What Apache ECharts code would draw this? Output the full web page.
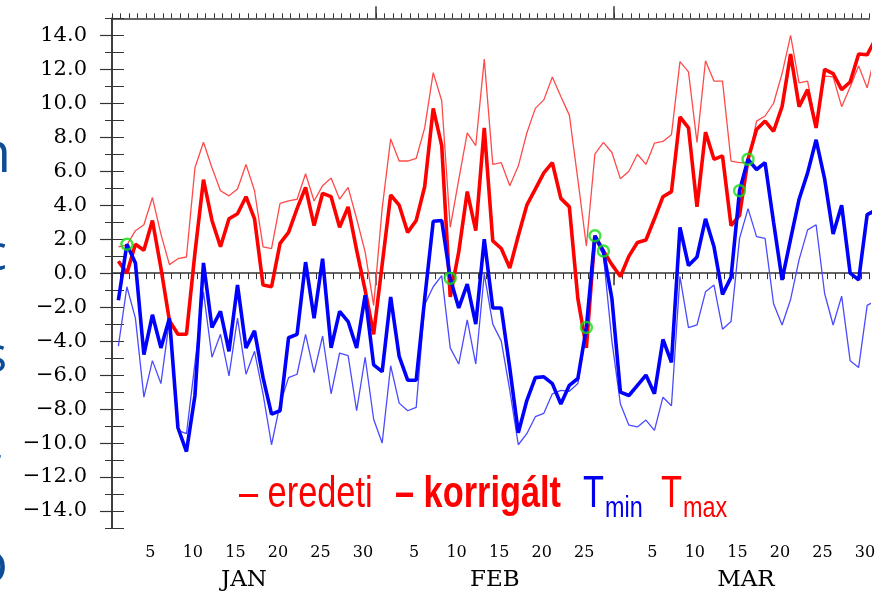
<!DOCTYPE html>
<html><head><meta charset="utf-8">
<script src="https://cdn.jsdelivr.net/npm/echarts@6/dist/echarts.min.js"></script>
<style>html,body{margin:0;padding:0;background:#fff}#c{width:881px;height:592px}</style>
</head><body><div id="c"></div>
<script>
// ---- data (Jan 1 .. Mar 31, one value per day) ----
const months = ['JAN', 'FEB', 'MAR'];
const monthLengths = [31, 28, 31];
const yTickLabels = [-14, -12, -10, -8, -6, -4, -2, 0, 2, 4, 6, 8, 10, 12, 14];

const tmaxEredeti = [1.55,1.65,2.5,2.85,4.45,2.3,0.5,0.85,0.95,6.2,7.7,6.2,4.85,4.55,4.95,6.4,4.85,1.55,1.45,4.1,4.25,4.35,5.85,4.25,5.15,5.6,4.35,5.05,3.2,1.25,-1.9,
  3.8,7.9,6.6,6.6,6.75,8.55,11.8,10.15,2.7,5.5,8.25,7.5,12.6,6.4,6.5,5.15,6.3,8.25,9.7,10.2,11.55,10.4,9.3,5.5,1.6,7.0,7.7,7.1,
  5.55,6.0,7.0,6.4,7.65,7.75,8.15,12.45,11.85,7.7,12.5,11.3,11.3,6.6,6.5,6.5,8.95,9.25,10.0,11.75,14.0,11.2,11.3,8.65,11.6,11.55,9.8,10.95,12.2,10.9,13.0];
const tmaxKorrigalt = [0.7,0.0,1.7,1.35,3.1,0.3,-2.8,-3.6,-3.6,1.2,5.5,3.1,1.55,3.2,3.5,4.5,3.2,-0.7,-0.8,1.75,2.4,3.8,5.05,2.8,4.7,4.5,2.7,3.9,1.35,-1.0,-3.6,
  0.5,4.6,4.0,2.4,3.1,5.1,9.7,7.5,-1.4,1.25,4.8,2.5,8.55,1.9,1.45,0.3,2.2,4.0,4.95,5.9,6.5,4.4,3.9,-1.5,-4.4,2.2,1.3,0.5,
  -0.2,1.0,1.8,1.95,3.2,4.5,4.8,9.2,8.55,3.9,8.3,6.7,6.9,2.8,3.4,6.7,8.45,8.95,8.35,9.8,12.9,9.8,10.8,8.55,12.0,11.75,10.8,11.25,12.9,12.85,13.8];
const tminEredeti = [-4.3,-0.8,-2.65,-7.3,-5.15,-6.5,-2.75,-9.25,-9.45,-5.3,-1.1,-4.95,-3.6,-6.05,-2.65,-5.95,-4.6,-7.1,-10.1,-7.7,-6.15,-5.95,-3.6,-5.85,-3.7,-7.1,-4.7,-4.85,-8.1,-4.95,-8.6,
  -10.0,-5.45,-7.65,-8.1,-7.9,-1.85,-0.8,-0.15,-4.4,-5.35,-2.75,-5.35,-0.05,-3.0,-4.0,-6.9,-10.1,-9.45,-8.45,-8.25,-7.1,-6.9,-6.95,-6.5,-3.4,2.0,1.05,-4.0,
  -7.7,-8.95,-9.05,-8.65,-9.25,-7.3,-7.8,-0.2,-3.2,-3.05,-1.1,-0.7,-3.3,-2.85,2.05,3.8,2.15,2.05,-1.8,-3.05,-1.55,0.8,2.55,2.85,-1.2,-3.05,-1.35,-5.15,-5.55,-1.9,-1.6];
const tminKorrigalt = [-1.6,1.7,0.6,-4.8,-2.45,-4.4,-2.65,-9.1,-10.5,-7.2,0.6,-3.2,-2.25,-4.6,-0.7,-4.4,-3.4,-6.15,-8.3,-8.1,-3.8,-3.6,0.65,-2.65,0.85,-4.4,-2.25,-2.85,-4.4,-1.3,-5.4,
  -5.8,-1.4,-4.9,-6.3,-6.3,-1.5,3.05,3.1,-0.3,-2.05,-0.65,-3.0,2.0,-2.05,-2.05,-5.6,-9.4,-7.5,-6.15,-6.1,-6.5,-7.7,-6.6,-6.2,-3.2,2.2,1.3,-1.5,
  -7.0,-7.2,-6.6,-6.0,-7.1,-3.9,-5.25,2.7,0.45,0.95,3.2,1.55,-1.25,-0.25,4.85,6.7,6.1,6.5,3.0,-0.4,2.0,4.35,5.9,7.85,5.55,2.3,4.0,0.0,-0.4,3.45,3.7];
const markedDays = [1, 39, 55, 56, 57, 73, 74];

// ---- derived helpers ----
const monthStarts = [];
const dayOfMonth = [];
let acc = 0;
monthLengths.forEach((n) => { monthStarts.push(acc); for (let d = 1; d <= n; d++) dayOfMonth.push(d); acc += n; });
const totalDays = acc; // 90
const boundaryTicks = monthStarts.slice(1);
const dayLabelValues = [];
dayOfMonth.forEach((d, i) => { if (d % 5 === 0 && i + 1 < totalDays) dayLabelValues.push(i + 0.5); });
const monthLabelValues = monthStarts.map((s, k) => s + monthLengths[k] / 2);

const pairs = (arr) => arr.map((v, i) => [i, v]);
const marks = markedDays.map((i) => [i, tminKorrigalt[i]]);

const frame = { show: true, lineStyle: { color: '#333', width: 1.5 } };
const serif = 'DejaVu Serif';
const xMax = totalDays - 1;
const slideBlue = '#0d4d97';

const chart = echarts.init(document.getElementById('c'), null, { renderer: 'canvas' });
chart.setOption({
  animation: false,
  backgroundColor: '#fff',
  grid: { left: 112, right: 11.7, top: 18.3, bottom: 60.3, containLabel: false },
  xAxis: [
    { type: 'value', position: 'bottom', min: 0, max: xMax, interval: 1, axisLine: frame,
      axisTick: { show: true, inside: false, length: 6, lineStyle: { color: '#333', width: 1 } },
      axisLabel: { show: false }, splitLine: { show: false } },
    { type: 'value', position: 'bottom', min: 0, max: xMax, axisLine: { show: false },
      axisTick: { show: true, length: 12, customValues: boundaryTicks, lineStyle: { color: '#333', width: 1.5 } },
      axisLabel: { show: true, customValues: dayLabelValues, margin: 17, fontFamily: serif, fontSize: 16, color: '#000',
        formatter: (v) => String(dayOfMonth[Math.floor(v)]) },
      splitLine: { show: false } },
    { type: 'value', position: 'bottom', min: 0, max: xMax, axisLine: { show: false }, axisTick: { show: false },
      axisLabel: { show: true, customValues: monthLabelValues, margin: 41, fontFamily: serif, fontSize: 23, color: '#000',
        formatter: (v) => months[monthLabelValues.indexOf(v)] },
      splitLine: { show: false } },
    { type: 'value', position: 'top', min: 0, max: xMax, interval: 1, axisLine: frame,
      axisTick: { show: true, length: 5, lineStyle: { color: '#333', width: 1 } },
      axisLabel: { show: false }, splitLine: { show: false } },
    { type: 'value', position: 'top', min: 0, max: xMax, axisLine: { show: false },
      axisTick: { show: true, length: 12, customValues: boundaryTicks, lineStyle: { color: '#333', width: 1.5 } },
      axisLabel: { show: false }, splitLine: { show: false } },
    { type: 'value', position: 'bottom', min: -0.75, max: xMax - 0.75, show: false }
  ],
  yAxis: [
    { type: 'value', position: 'left', min: -15, max: 15, interval: 1, axisLine: frame,
      axisTick: { show: true, length: 7, lineStyle: { color: '#333', width: 1 } },
      axisLabel: { show: true, customValues: yTickLabels, margin: 25, fontFamily: serif, fontSize: 21, color: '#000',
        formatter: (v) => (v < 0 ? '\u2212' : '') + Math.abs(v).toFixed(1) },
      splitLine: { show: false } },
    { type: 'value', position: 'left', min: -15, max: 15, axisLine: { show: false },
      axisTick: { show: true, length: 12, customValues: yTickLabels, lineStyle: { color: '#333', width: 1.2 } },
      axisLabel: { show: false }, splitLine: { show: false } },
    { type: 'value', position: 'right', min: -15, max: 15, interval: 1, axisLine: frame,
      axisTick: { show: true, length: 12, lineStyle: { color: '#333', width: 1 } },
      axisLabel: { show: false }, splitLine: { show: false } }
  ],
  series: [
    { name: 'Tmax eredeti', type: 'line', xAxisIndex: 5, yAxisIndex: 0, data: pairs(tmaxEredeti), showSymbol: false,
      lineStyle: { color: '#ff4a4a', width: 1.3 }, z: 2 },
    { name: 'Tmin eredeti', type: 'line', xAxisIndex: 5, yAxisIndex: 0, data: pairs(tminEredeti), showSymbol: false,
      lineStyle: { color: '#4a4aff', width: 1.3 }, z: 2 },
    { name: 'Tmax korrigált', type: 'line', xAxisIndex: 5, yAxisIndex: 0, data: pairs(tmaxKorrigalt), showSymbol: false,
      lineStyle: { color: '#ff0000', width: 3.6 }, z: 3 },
    { name: 'Tmin korrigált', type: 'line', xAxisIndex: 5, yAxisIndex: 0, data: pairs(tminKorrigalt), showSymbol: false,
      lineStyle: { color: '#0000ff', width: 3.6 }, z: 4 },
    { name: 'jelölt', type: 'scatter', xAxisIndex: 5, yAxisIndex: 0, data: marks, symbol: 'circle', symbolSize: 11,
      itemStyle: { color: 'rgba(0,0,0,0)', borderColor: '#11dd11', borderWidth: 2.4 }, z: 5 }
  ],
  graphic: [
    { type: 'text', x: 239, y: 495, scaleX: 0.78, style: { text: '\u2013 eredeti', font: '44px "Liberation Sans"', fill: '#ff0000', textVerticalAlign: 'middle' } },
    { type: 'text', x: 395, y: 495, scaleX: 0.78, style: { text: '\u2013 korrigált', font: 'bold 44px "Liberation Sans"', fill: '#ff0000', textVerticalAlign: 'middle' } },
    { type: 'text', x: 583, y: 495, scaleX: 0.78, style: { text: 'T', font: '44px "Liberation Sans"', fill: '#0000ee', textVerticalAlign: 'middle' } },
    { type: 'text', x: 605, y: 509, scaleX: 0.78, style: { text: 'min', font: '30px "Liberation Sans"', fill: '#0000ee', textVerticalAlign: 'middle' } },
    { type: 'text', x: 661, y: 495, scaleX: 0.78, style: { text: 'T', font: '44px "Liberation Sans"', fill: '#ff0000', textVerticalAlign: 'middle' } },
    { type: 'text', x: 683, y: 509, scaleX: 0.78, style: { text: 'max', font: '30px "Liberation Sans"', fill: '#ff0000', textVerticalAlign: 'middle' } },
    { type: 'text', x: 11, y: 156, style: { text: 'n', font: '56px "Open Sans"', fill: slideBlue, textAlign: 'right', textVerticalAlign: 'middle' } },
    { type: 'text', x: 7, y: 256, style: { text: 'c', font: '50px "Open Sans"', fill: slideBlue, textAlign: 'right', textVerticalAlign: 'middle' } },
    { type: 'text', x: 7, y: 358, style: { text: 's', font: '50px "Open Sans"', fill: slideBlue, textAlign: 'right', textVerticalAlign: 'middle' } },
    { type: 'text', x: 5, y: 446, style: { text: ',', font: '56px "Open Sans"', fill: slideBlue, textAlign: 'right', textVerticalAlign: 'middle' } },
    { type: 'text', x: 8, y: 566, style: { text: 'ó', font: '56px "Open Sans"', fill: slideBlue, textAlign: 'right', textVerticalAlign: 'middle' } }
  ]
});
</script>
</body></html>
